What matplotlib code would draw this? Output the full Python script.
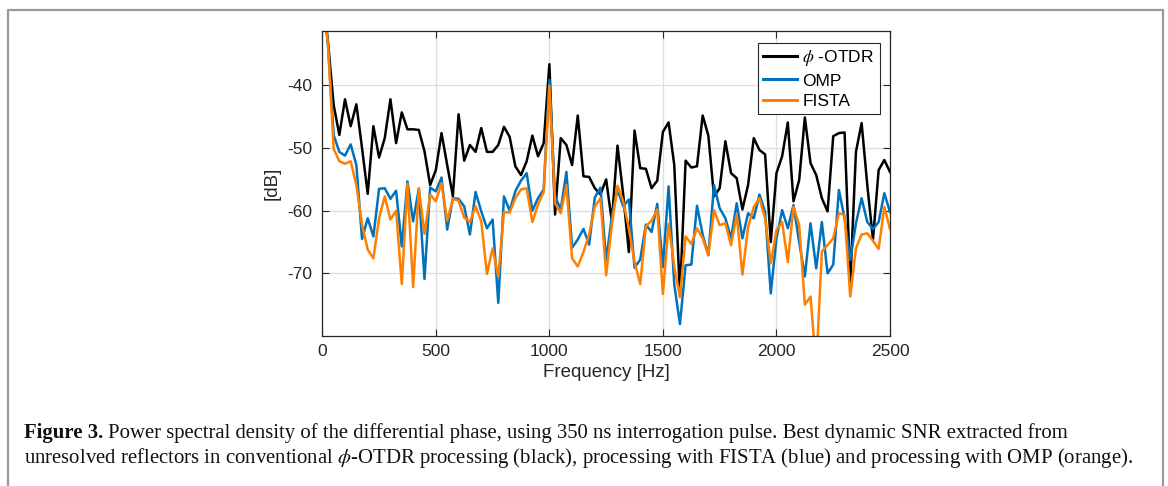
import numpy as np
import matplotlib
matplotlib.use('Agg')
import matplotlib.pyplot as plt
from matplotlib.lines import Line2D

# PSD of the differential phase, 25 Hz bins from 0 to 2500 Hz
freq_hz = np.arange(0, 2525, 25)

otdr_db = [-25, -33, -43.1, -47.9, -42.2, -46.5, -43.0, -50.0, -57.3, -46.5,
           -51.5, -48.4, -42.2, -49.2, -44.3, -47.0, -47.0, -47.1, -50.5, -55.9,
           -53.5, -47.6, -52.7, -57.7, -44.6, -52.0, -49.5, -50.6, -46.8, -50.6,
           -50.6, -49.5, -46.6, -48.2, -52.9, -54.3, -52.1, -48.0, -51.3, -49.2,
           -36.6, -60.6, -48.4, -49.5, -52.7, -44.8, -54.5, -54.6, -56.4, -57.4,
           -55.0, -61.7, -49.6, -57.4, -66.6, -47.2, -53.2, -53.3, -56.4, -55.2,
           -47.4, -45.9, -52.7, -73.5, -52.0, -53.1, -52.9, -44.8, -48.0, -57.7,
           -56.4, -48.9, -54.0, -54.8, -59.8, -55.9, -48.4, -50.3, -51.0, -65.0,
           -54.0, -51.3, -45.9, -58.5, -55.1, -45.1, -52.4, -54.3, -58.0, -60.1,
           -48.1, -47.6, -47.5, -71.5, -50.6, -46.0, -55.9, -64.6, -53.5, -51.9,
           -53.8]

omp_db = [-25, -33.5, -47.9, -50.6, -51.2, -49.4, -52.7, -64.5, -61.2, -64.1,
          -56.5, -56.4, -58.1, -56.8, -65.7, -55.3, -61.7, -56.5, -70.9, -56.3,
          -56.9, -54.7, -63.0, -58.0, -58.1, -59.3, -63.8, -57.0, -60.1, -62.8,
          -61.4, -74.7, -57.7, -60.0, -56.9, -55.2, -54.0, -60.0, -58.0, -56.6,
          -39.1, -57.7, -59.8, -53.8, -65.9, -64.6, -62.9, -65.4, -57.9, -56.3,
          -68.0, -60.9, -56.6, -59.3, -58.2, -69.1, -67.8, -62.2, -63.4, -58.9,
          -69.0, -56.1, -71.8, -78.1, -68.7, -68.6, -59.2, -63.8, -67.1, -55.9,
          -59.6, -61.2, -64.4, -58.8, -64.4, -60.4, -61.2, -57.4, -60.2, -73.2,
          -64.4, -59.9, -62.8, -59.1, -65.0, -70.5, -62.0, -69.2, -61.8, -70.0,
          -68.6, -56.7, -61.2, -67.9, -62.0, -58.0, -61.8, -62.9, -61.8, -57.2,
          -60.2]

fista_db = [-25, -33.5, -50.1, -52.1, -52.5, -52.1, -55.9, -62.2, -66.2, -67.6,
            -61.2, -57.7, -61.4, -60.0, -71.7, -55.7, -72.2, -56.4, -63.7, -57.4,
            -58.5, -55.6, -61.6, -58.1, -58.4, -61.1, -61.8, -59.3, -61.7, -70.1,
            -66.0, -70.5, -60.2, -60.3, -58.0, -56.6, -56.4, -61.8, -59.0, -57.0,
            -40.0, -58.8, -60.4, -55.9, -67.6, -68.9, -66.6, -63.8, -59.3, -58.0,
            -70.3, -62.2, -56.0, -58.5, -62.8, -68.2, -71.7, -62.5, -61.6, -59.8,
            -73.3, -62.1, -68.9, -73.8, -64.1, -65.3, -62.8, -64.4, -67.1, -59.9,
            -62.3, -62.0, -65.5, -60.6, -70.2, -62.6, -59.4, -58.0, -61.2, -68.4,
            -63.1, -61.8, -68.2, -59.4, -62.3, -75.0, -73.7, -85.0, -66.5, -65.5,
            -64.4, -60.4, -60.7, -73.7, -66.0, -63.8, -63.6, -64.8, -66.1, -59.4,
            -62.9]

series_labels = [r'$\phi$ -OTDR', 'OMP', 'FISTA']
x_ticks = [0, 500, 1000, 1500, 2000, 2500]
y_ticks = [-70, -60, -50, -40]

caption_bold = 'Figure 3.'
caption_1 = ('Power spectral density of the differential phase, using 350 ns '
             'interrogation pulse. Best dynamic SNR extracted from')
caption_2 = (r'unresolved reflectors in conventional $\phi$-OTDR processing (black), '
             'processing with FISTA (blue) and processing with OMP (orange).')

W, H = 1168, 486
plt.rcParams['font.family'] = ['Liberation Sans', 'DejaVu Sans']
plt.rcParams['mathtext.fontset'] = 'stix'
plt.rcParams['axes.unicode_minus'] = False
ink = '#262626'

fig = plt.figure(figsize=(W / 100, H / 100), dpi=100)
ax = fig.add_axes([322.3 / W, 1 - 336 / H, (890 - 322.3) / W, (336 - 31) / H])

ax.plot(freq_hz, otdr_db, color='black', lw=1.8, label=series_labels[0])
ax.plot(freq_hz, omp_db, color='#0072BD', lw=1.8, label=series_labels[1])
ax.plot(freq_hz, fista_db, color='#FF8000', lw=1.8, label=series_labels[2])

ax.set_xlim(0, 2500)
ax.set_ylim(-80, -31.3)
ax.set_xticks(x_ticks)
ax.set_yticks(y_ticks)
ax.grid(True, color='#dddddd', lw=0.9)
ax.set_axisbelow(True)
ax.tick_params(direction='in', length=5, width=0.8, colors=ink, labelsize=12.5,
               top=True, right=True)
ax.tick_params(axis='y', pad=7)
ax.tick_params(axis='x', pad=6)
for s in ax.spines.values():
    s.set_color(ink)
    s.set_linewidth(0.9)
ax.set_xlabel('Frequency [Hz]', fontsize=13.5, color=ink, labelpad=3)
ax.set_ylabel('[dB]', fontsize=13.5, color=ink, labelpad=5)

leg = ax.legend(loc='upper right', bbox_to_anchor=(1 - 10.5 / 567.7, 1 - 12 / 305),
                fontsize=12.5, frameon=True, fancybox=False, framealpha=1,
                edgecolor=ink, handlelength=1.95, handletextpad=0.3,
                labelspacing=0.3, borderpad=0.3, borderaxespad=0)
leg.get_frame().set_linewidth(0.8)
for t in leg.get_texts():
    t.set_color('black')
for h in leg.legend_handles:
    h.set_linewidth(2.2)

# outer frame of the figure panel (open at the bottom)
fx0, fx1, fy = 8 / W, 1163 / W, 1 - 10 / H
fig.add_artist(Line2D([fx0, fx0, fx1, fx1], [0, fy, fy, 0],
                      transform=fig.transFigure, color='#999999', lw=1.6))

# caption, fitted to the width in the reference
r = fig.canvas.get_renderer()
cap = dict(family=['Liberation Serif', 'DejaVu Serif'], va='baseline', color='#111111')
size = 13.0
t2 = fig.text(24 / W, 1 - 463 / H, caption_2, fontsize=size, **cap)
size *= 1108 / t2.get_window_extent(r).width
t2.set_fontsize(size)
t1a = fig.text(24 / W, 1 - 438 / H, caption_bold, fontsize=size, weight='bold', **cap)
wa = t1a.get_window_extent(r).width
t1b = fig.text((24 + wa + 0.3 * size) / W, 1 - 438 / H, caption_1, fontsize=size, **cap)

fig.savefig('out.png', dpi=100)
